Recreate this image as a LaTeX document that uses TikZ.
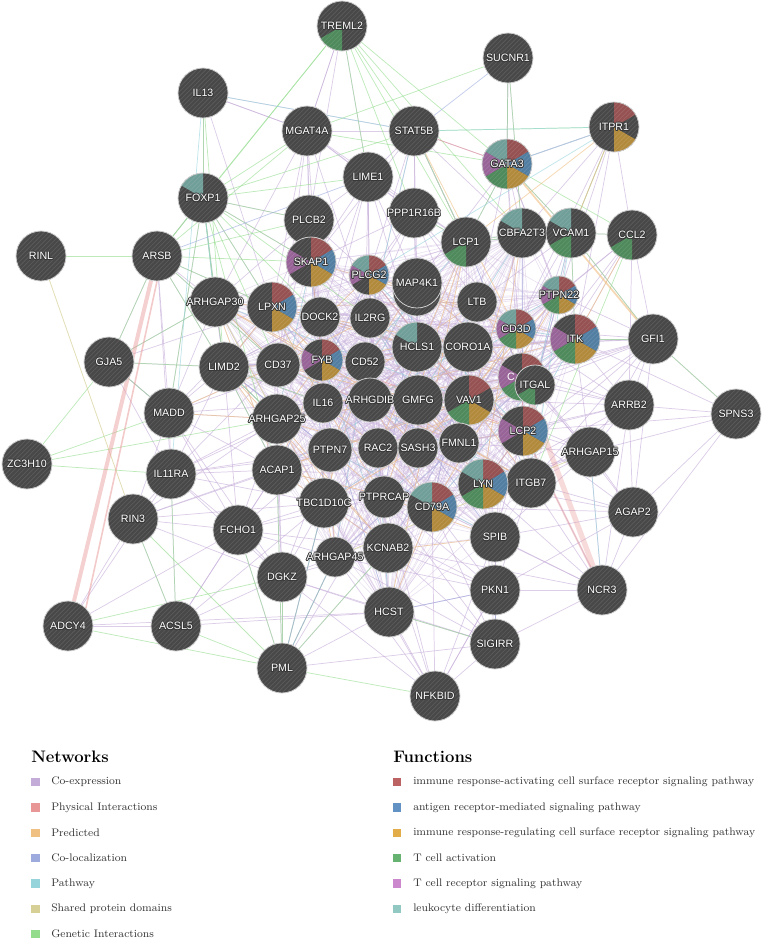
\documentclass[tikz,border=0pt]{standalone}
\usepackage{fontspec}
\newfontfamily\lblfont{Liberation Sans}
\usetikzlibrary{backgrounds}
\definecolor{ncol}{RGB}{72,72,72}
\definecolor{halo}{RGB}{55,55,55}
\definecolor{nborder}{RGB}{205,205,205}
\definecolor{fc1}{RGB}{150,82,82}
\definecolor{fc2}{RGB}{82,126,162}
\definecolor{fc3}{RGB}{178,138,60}
\definecolor{fc4}{RGB}{78,138,92}
\definecolor{fc5}{RGB}{152,100,152}
\definecolor{fc6}{RGB}{112,158,152}
\definecolor{lc1}{RGB}{188,98,98}
\definecolor{lc2}{RGB}{98,146,196}
\definecolor{lc3}{RGB}{226,172,72}
\definecolor{lc4}{RGB}{102,178,112}
\definecolor{lc5}{RGB}{204,136,204}
\definecolor{lc6}{RGB}{146,200,194}
\definecolor{cx}{RGB}{196,172,216}
\definecolor{ph}{RGB}{232,150,150}
\definecolor{pr}{RGB}{240,192,130}
\definecolor{cl}{RGB}{156,170,222}
\definecolor{pw}{RGB}{150,212,220}
\definecolor{sd}{RGB}{214,208,150}
\definecolor{gi}{RGB}{146,220,140}
\tikzset{
  gbase/.style={circle, fill=ncol, draw=none, inner sep=0pt},
  gborder/.style={draw=nborder, line width=0.6pt},
  gstripe/.style={draw=white, line width=0.5pt, opacity=0.11},
  glabel/.style={text=white, font=\lblfont\fontsize{8}{9}\selectfont, inner sep=0pt},
  ghalo/.style={glabel, text=halo},
  ecore/.style={draw=cx, line width=0.5pt, opacity=0.34},
  ecx/.style={draw=cx, line width=0.55pt, opacity=0.6},
  egi/.style={draw=gi, line width=0.55pt, opacity=0.6},
  epr/.style={draw=pr, line width=0.6pt, opacity=0.6},
  ecl/.style={draw=cl, line width=0.55pt, opacity=0.6},
  epw/.style={draw=pw, line width=0.55pt, opacity=0.6},
  esd/.style={draw=sd, line width=0.6pt, opacity=0.7},
  eph/.style={draw=ph, line width=0.6pt, opacity=0.6},
  lsq/.style={rectangle, inner sep=0pt, minimum size=6.3pt, draw=none},
  ltext/.style={anchor=west, inner sep=0pt, font=\fontsize{8.2}{10}\selectfont, text=black!80},
  lhead/.style={anchor=west, inner sep=0pt, font=\bfseries\fontsize{12.5}{14}\selectfont}
}
\newcommand\gnode[5]{%
  \node[gbase, minimum size={2*#4*0.75pt}] (#1) at (#2,#3) {};
  \foreach \k in {#5}{\ifnum\k>0
    \fill[fill=fc\k] (#1.center) -- ++({150-60*\k}:{#4*0.75pt})
      arc[start angle={150-60*\k}, end angle={90-60*\k}, radius={#4*0.75pt}] -- cycle;
  \fi}
  \begin{scope}
    \clip (#1.center) circle[radius={#4*0.75pt}];
    \foreach \d in {-18,-15.6,...,18}{
      \draw[gstripe] ([shift={(-45:\d pt)}]#1.center) ++(45:-20pt) -- ++(45:40pt);
    }
  \end{scope}
  \draw[gborder] (#1.center) circle[radius={#4*0.75pt}];
}
\newcommand\edg[3]{\foreach \t in {#3}{\draw[#1] (#2) -- (\t);}}
\def\corelist{LPXN,DOCK2,IL2RG,PLCG2,SKAP1,MAP4K1,LTB,HCLS1,CORO1A,CD3D,ITK,CD247,ITGAL,LCP2,CD37,FYB,CD52,IL16,ARHGDIB,GMFG,VAV1,ARHGAP25,PTPN7,RAC2,SASH3,FMNL1,ACAP1,TBC1D10C,PTPRCAP,CD79A,LYN,ITGB7,KCNAB2,ARHGAP45,LCP1,PTPN22,CBFA2T3,ARHGAP30,LIMD2,SPIB,HCST}
\begin{document}
\begin{tikzpicture}[x=0.75pt,y=-0.75pt]
\useasboundingbox (0,0) rectangle (762,939);
% ---------------- nodes ----------------
\gnode{TREML2}{342}{26}{25}{4}
\gnode{IL13}{203}{93}{25}{0}
\gnode{SUCNR1}{508}{58}{25}{0}
\gnode{MGAT4A}{307}{131}{25}{0}
\gnode{STAT5B}{414}{131}{25}{0}
\gnode{ITPR1}{614}{127}{25}{1,3}
\gnode{GATA3}{507}{164}{25}{1,2,3,4,5,6}
\gnode{LIME1}{368}{177}{25}{0}
\gnode{FOXP1}{203}{198}{25}{6}
\gnode{PPP1R16B}{414}{213}{25}{0}
\gnode{PLCB2}{309}{220}{25}{0}
\gnode{LCP1}{466}{242}{25}{4}
\gnode{CBFA2T3}{522}{233}{25}{6}
\gnode{VCAM1}{571}{233}{25}{4,6}
\gnode{CCL2}{632}{235}{25}{4}
\gnode{RINL}{41}{256}{25}{0}
\gnode{ARSB}{157}{256}{25}{0}
\gnode{SKAP1}{311}{262}{25}{1,2,3,5}
\gnode{PLCG2}{369}{275}{20}{1,2,3,5,6}
\gnode{MAPX}{417}{292}{24}{0}
\gnode{MAP4K1}{417}{283}{25}{0}
\gnode{PTPN22}{559}{295}{19}{1,2,3,4,5,6}
\gnode{LTB}{477}{302}{20}{0}
\gnode{ARHGAP30}{215}{302}{25}{0}
\gnode{LPXN}{272}{307}{25}{1,2,3}
\gnode{DOCK2}{320}{317}{20}{0}
\gnode{IL2RG}{370}{318}{20}{0}
\gnode{CD3D}{516}{329}{20}{1,2,3,4,5,6}
\gnode{ITK}{575}{339}{25}{1,2,3,4,5}
\gnode{GFI1}{653}{339}{25}{0}
\gnode{HCLS1}{417}{347}{25}{6}
\gnode{CORO1A}{468}{347}{25}{0}
\gnode{GJA5}{109}{362}{25}{0}
\gnode{LIMD2}{224}{367}{25}{0}
\gnode{CD37}{278}{365}{22}{0}
\gnode{FYB}{322}{360}{21}{1,2,3,5}
\gnode{CD52}{365}{362}{20}{0}
\gnode{CD247}{522}{377}{24}{1,2,3,4,5}
\node[glabel] (cdfrag) at (511,377) {C};
\gnode{ITGAL}{535}{385}{20}{4}
\gnode{ARHGDIB}{370}{400}{22}{0}
\gnode{GMFG}{418}{400}{25}{0}
\gnode{VAV1}{469}{400}{25}{1,3,4}
\gnode{IL16}{323}{403}{20}{0}
\gnode{ARRB2}{629}{405}{25}{0}
\gnode{SPNS3}{736}{414}{25}{0}
\gnode{MADD}{169}{413}{25}{0}
\gnode{ARHGAP25}{277}{419}{25}{0}
\gnode{LCP2}{523}{431}{25}{1,2,3,5}
\gnode{FMNL1}{459}{443}{20}{0}
\gnode{RAC2}{378}{448}{20}{0}
\gnode{SASH3}{418}{448}{20}{0}
\gnode{PTPN7}{330}{450}{22}{0}
\gnode{ARHGAP15}{590}{452}{25}{0}
\gnode{ZC3H10}{27}{464}{25}{0}
\gnode{ACAP1}{277}{470}{25}{0}
\gnode{IL11RA}{171}{474}{25}{0}
\gnode{ITGB7}{531}{483}{25}{0}
\gnode{LYN}{483}{484}{25}{1,2,3,4,6}
\gnode{PTPRCAP}{384}{497}{21}{0}
\gnode{TBC1D10C}{324}{503}{25}{0}
\gnode{CD79A}{432}{507}{25}{1,2,3,6}
\gnode{AGAP2}{633}{512}{25}{0}
\gnode{RIN3}{133}{519}{25}{0}
\gnode{FCHO1}{238}{530}{25}{0}
\gnode{SPIB}{495}{537}{25}{0}
\gnode{KCNAB2}{388}{548}{25}{0}
\gnode{ARHGAP45}{335}{557}{20}{0}
\gnode{DGKZ}{282}{577}{25}{0}
\gnode{PKN1}{495}{590}{25}{0}
\gnode{NCR3}{602}{590}{25}{0}
\gnode{HCST}{389}{612}{25}{0}
\gnode{ADCY4}{68}{626}{25}{0}
\gnode{ACSL5}{176}{626}{25}{0}
\gnode{SIGIRR}{495}{644}{25}{0}
\gnode{PML}{282}{668}{25}{0}
\gnode{NFKBID}{435}{696}{25}{0}
% labels on top of all circles, with a dark halo
\foreach \n in {TREML2,IL13,SUCNR1,MGAT4A,STAT5B,ITPR1,GATA3,LIME1,FOXP1,PPP1R16B,PLCB2,LCP1,CBFA2T3,VCAM1,CCL2,RINL,ARSB,SKAP1,PLCG2,MAP4K1,PTPN22,LTB,ARHGAP30,LPXN,DOCK2,IL2RG,CD3D,ITK,GFI1,HCLS1,CORO1A,GJA5,LIMD2,CD37,FYB,CD52,ITGAL,ARHGDIB,GMFG,VAV1,IL16,ARRB2,SPNS3,MADD,ARHGAP25,LCP2,FMNL1,RAC2,SASH3,PTPN7,ARHGAP15,ZC3H10,ACAP1,IL11RA,ITGB7,LYN,PTPRCAP,TBC1D10C,CD79A,AGAP2,RIN3,FCHO1,SPIB,KCNAB2,ARHGAP45,DGKZ,PKN1,NCR3,HCST,ADCY4,ACSL5,SIGIRR,PML,NFKBID}{
  \foreach \hx/\hy in {-0.6/0,0.6/0,0/-0.6,0/0.6,-0.42/-0.42,0.42/0.42,-0.42/0.42,0.42/-0.42}{
    \node[ghalo] at ([shift={(\hx pt,\hy pt)}]\n.center) {\n};
  }
  \node[glabel] (lbl-\n) at (\n.center) {\n};
}
% ---------------- edges ----------------
\begin{pgfonlayer}{background}
\foreach \a [count=\i] in \corelist {
  \foreach \b [count=\j] in \corelist {
    \ifnum\j>\i \draw[ecore] (\a) -- (\b); \fi
    \ifnum\numexpr\j-\i\relax=6 \draw[epr] (\a) -- (\b); \fi
    \ifnum\numexpr\j-\i\relax=11 \draw[epr] (\a) -- (\b); \fi
    \ifnum\numexpr\j-\i\relax=17 \draw[epw] (\a) -- (\b); \fi
    \ifnum\numexpr\j-\i\relax=23 \draw[ecl] (\a) -- (\b); \fi
  }
}
% co-expression
\edg{ecx}{MGAT4A}{LIME1,PLCB2,STAT5B,IL13,SKAP1,LPXN,DOCK2,PPP1R16B,LCP1,CD37,TREML2,IL2RG,ARHGAP30}
\edg{ecx}{LIME1}{PLCB2,SKAP1,PLCG2,MAP4K1,LCP1,IL2RG,STAT5B,DOCK2,PPP1R16B,HCLS1,FYB,CD52}
\edg{ecx}{STAT5B}{PPP1R16B,GATA3,LCP1,MAP4K1,SKAP1,CBFA2T3,IL2RG,PLCG2}
\edg{ecx}{PPP1R16B}{MAP4K1,LCP1,PLCG2,IL2RG,HCLS1,CORO1A,LTB,SKAP1,CD3D,FYB}
\edg{ecx}{PLCB2}{SKAP1,PLCG2,LPXN,DOCK2,ARHGAP30,IL2RG,CD37,FYB}
\edg{ecx}{GATA3}{CBFA2T3,VCAM1,LCP1,PTPN22,CD3D,ITK,ITPR1,SUCNR1,LTB,MAP4K1,CD247}
\edg{ecx}{ITPR1}{VCAM1,CCL2,CBFA2T3,GATA3,PTPN22,ITK,CD3D}
\edg{ecx}{SUCNR1}{GATA3,CBFA2T3}
\edg{ecx}{VCAM1}{CCL2,PTPN22,ITK,CD3D,LCP1,CBFA2T3,GFI1,CD247,ITGAL,LTB}
\edg{ecx}{CCL2}{ITK,PTPN22,GFI1,CD3D,ARRB2,CD247,ITGAL}
\edg{ecx}{GFI1}{ITK,CD3D,CD247,ITGAL,LCP2,ARRB2,SPNS3,AGAP2,PTPN22,ARHGAP15,VAV1,CORO1A,LYN,ITGB7,HCLS1,GMFG}
\edg{ecx}{SPNS3}{ARRB2,AGAP2,ITK,LCP2,NCR3,ARHGAP15}
\edg{ecx}{ARRB2}{ITK,CD247,ITGAL,LCP2,ARHGAP15,AGAP2,ITGB7,LYN,VAV1,NCR3,CD3D,CORO1A,FMNL1}
\edg{ecx}{ARHGAP15}{LCP2,ITGB7,LYN,ITGAL,CD247,VAV1,AGAP2,NCR3,ITK,SPIB,CD79A,FMNL1}
\edg{ecx}{AGAP2}{ITGB7,LYN,SPIB,NCR3,LCP2,PKN1,CD79A,ITGAL}
\edg{ecx}{NCR3}{SPIB,PKN1,LYN,ITGB7,SIGIRR,CD79A,KCNAB2,LCP2}
\edg{ecx}{PKN1}{SPIB,SIGIRR,HCST,NFKBID,CD79A,LYN,KCNAB2,PTPRCAP,ITGB7,TBC1D10C,ARHGAP45}
\edg{ecx}{SIGIRR}{HCST,NFKBID,SPIB,KCNAB2,CD79A,PTPRCAP,DGKZ,ARHGAP45,LYN}
\edg{ecx}{NFKBID}{HCST,SPIB,KCNAB2,CD79A,PTPRCAP,ARHGAP45,TBC1D10C,DGKZ,PKN1}
\edg{ecx}{PML}{HCST,DGKZ,ARHGAP45,KCNAB2,TBC1D10C,FCHO1,ACAP1,SIGIRR,PTPRCAP}
\edg{ecx}{DGKZ}{FCHO1,ACAP1,TBC1D10C,ARHGAP45,ARHGAP25,IL11RA,MADD,RIN3,HCST,KCNAB2,PTPN7}
\edg{ecx}{ACSL5}{FCHO1,DGKZ,IL11RA,RIN3,ACAP1,HCST,TBC1D10C}
\edg{ecx}{ADCY4}{ACSL5,HCST,IL11RA,RIN3,FCHO1}
\edg{ecx}{FCHO1}{ACAP1,TBC1D10C,IL11RA,MADD,ARHGAP25,ARHGAP45,PTPN7,RIN3,LIMD2,KCNAB2,PTPRCAP}
\edg{ecx}{RIN3}{IL11RA,MADD,ACAP1,TBC1D10C,ARHGAP25,PTPN7}
\edg{ecx}{IL11RA}{MADD,ACAP1,ARHGAP25,LIMD2,TBC1D10C,PTPN7,IL16,CD37,GJA5,RAC2}
\edg{ecx}{MADD}{LIMD2,ARHGAP25,ACAP1,CD37,IL16,ARHGAP30,LPXN,GJA5,FYB}
\edg{ecx}{GJA5}{LIMD2,ARHGAP30,LPXN,MADD}
\edg{ecx}{LIMD2}{CD37,ARHGAP30,LPXN,ARHGAP25,FYB,IL16,ACAP1,DOCK2,PTPN7}
\edg{ecx}{ARSB}{ARHGAP30,LPXN,LIMD2,MADD,CD37,GJA5,IL11RA}
\edg{ecx}{FOXP1}{ARHGAP30,LPXN,PLCB2,SKAP1,LIMD2,ARSB,MADD}
\edg{ecx}{IL13}{FOXP1,MGAT4A,LPXN,STAT5B}
\edg{ecx}{TREML2}{MGAT4A,PLCB2,LIME1}
% genetic interactions
\edg{egi}{TREML2}{FOXP1,ARSB,LIME1,STAT5B,LCP1,CBFA2T3,PPP1R16B,GATA3}
\edg{egi}{IL13}{FOXP1,LIMD2}
\edg{egi}{SUCNR1}{MGAT4A,GATA3,CBFA2T3}
\edg{egi}{ITPR1}{STAT5B,VCAM1}
\edg{egi}{MGAT4A}{FOXP1,ARSB,GATA3}
\edg{egi}{FOXP1}{ARSB,LIME1,PLCB2,SKAP1,STAT5B,LPXN,MADD,LIMD2,DOCK2,IL2RG,ARHGAP30,ACAP1,CD37}
\edg{egi}{RINL}{ARSB}
\edg{egi}{ARSB}{GJA5,LIMD2,PLCB2,SKAP1,LPXN,CD37}
\edg{egi}{GJA5}{ZC3H10,MADD,LIMD2,ARHGAP30}
\edg{egi}{ZC3H10}{IL11RA,MADD,ARHGAP25}
\edg{egi}{RIN3}{ACSL5,PML}
\edg{egi}{ADCY4}{PML,DGKZ}
\edg{egi}{ACSL5}{PML,IL11RA}
\edg{egi}{PML}{NFKBID,DGKZ,ARHGAP45,KCNAB2,FCHO1,TBC1D10C,ACAP1}
\edg{egi}{GFI1}{SPNS3,ITK,VCAM1}
\edg{egi}{VCAM1}{CCL2,ITK,GATA3,LCP1}
\edg{egi}{CCL2}{GATA3,ITGB7}
\edg{egi}{LCP1}{GATA3,STAT5B,PPP1R16B,CBFA2T3}
\edg{egi}{HCST}{SIGIRR}
\edg{egi}{LIMD2}{ARHGAP25,ACAP1,IL16}
% predicted
\draw[epr, line width=1.3pt] (GATA3) -- (GFI1);
\edg{epr}{ITPR1}{VCAM1,LCP1}
\edg{epr}{MADD}{ARHGAP25,CD37}
\edg{epr}{ARHGAP30}{LPXN,CD37,FYB}
\edg{epr}{LIMD2}{CD37,LPXN}
\edg{epr}{STAT5B}{LCP1,CD3D}
\edg{epr}{LPXN}{FYB,IL16,CORO1A}
\edg{epr}{CD37}{IL2RG,GMFG}
\edg{epr}{ARHGAP25}{RAC2,GMFG}
\edg{epr}{ACAP1}{PTPN7,CD79A}
\edg{epr}{TBC1D10C}{SASH3}
\edg{epr}{CCL2}{ITK}
% pathway
\edg{epw}{IL13}{STAT5B,IL11RA}
\edg{epw}{ITPR1}{GATA3,STAT5B,PLCG2}
\edg{epw}{STAT5B}{IL2RG,LCP1}
\edg{epw}{FOXP1}{ARHGAP30}
\edg{epw}{CD3D}{ITK}
\edg{epw}{LCP2}{ITK,VAV1,PLCG2}
\edg{epw}{LYN}{CD79A}
\edg{epw}{FYB}{SKAP1}
\edg{epw}{ITGAL}{ITGB7,VCAM1}
\edg{epw}{ARHGAP15}{NCR3}
\edg{epw}{VCAM1}{ITGB7}
% co-localization
\edg{ecl}{SUCNR1}{STAT5B}
\edg{ecl}{ARSB}{LIME1}
\edg{ecl}{PML}{ARHGAP45,TBC1D10C}
\edg{ecl}{HCST}{PKN1}
\edg{ecl}{SIGIRR}{PKN1}
\edg{ecl}{LIMD2}{PTPN7}
% shared protein domains
\edg{esd}{RINL}{RIN3}
\edg{esd}{ARHGAP30}{ARHGAP25}
\edg{esd}{ARHGAP15}{ARHGAP45}
% physical interactions
\draw[eph, line width=3pt, opacity=0.45] (ARSB) -- (ADCY4);
\draw[eph, line width=1.2pt, opacity=0.5] (ARSB.south) -- (ADCY4.north east);
\draw[eph, line width=4pt, opacity=0.35] (CD247) -- (NCR3);
\draw[eph, line width=1.5pt, opacity=0.4] (LCP2) -- (NCR3);
\edg{eph}{STAT5B}{GATA3}
\edg{eph}{LCP2}{VAV1,LYN,FYB,CD247}
\edg{eph}{SKAP1}{FYB}
\edg{eph}{CD79A}{LYN}
\edg{eph}{PLCG2}{VAV1}
\end{pgfonlayer}
% ---------------- legend ----------------
\node[lhead] (nethead) at (31,757) {Networks};
\node[lhead] (funhead) at (393,757) {Functions};
\foreach \t/\c [count=\i] in {Co-expression/cx, Physical Interactions/ph, Predicted/pr, Co-localization/cl, Pathway/pw, Shared protein domains/sd, Genetic Interactions/gi}{
  \node[lsq, fill=\c] (nsq\i) at (35.5,{782+25.35*(\i-1)}) {};
  \node[ltext] (ntx\i) at (51,{782+25.35*(\i-1)}) {\t};
}
\foreach \t/\c [count=\i] in {immune response-activating cell surface receptor signaling pathway/lc1, antigen receptor-mediated signaling pathway/lc2, immune response-regulating cell surface receptor signaling pathway/lc3, T cell activation/lc4, T cell receptor signaling pathway/lc5, leukocyte differentiation/lc6}{
  \node[lsq, fill=\c] (fsq\i) at (397,{782+25.35*(\i-1)}) {};
  \node[ltext] (ftx\i) at (413,{782+25.35*(\i-1)}) {\t};
}
\end{tikzpicture}
\end{document}
